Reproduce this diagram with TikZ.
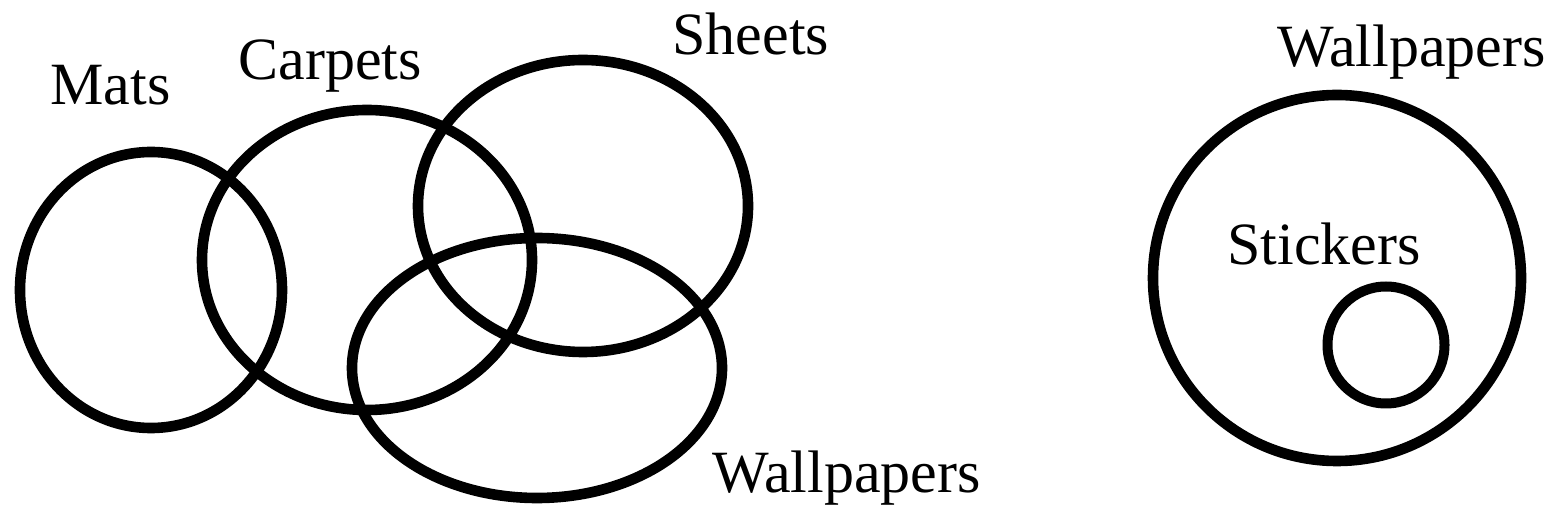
\documentclass[tikz,border=0pt]{standalone}
\usepackage{fontspec}
\setmainfont{Liberation Serif}
\usetikzlibrary{shapes.geometric}
\begin{document}
\begin{tikzpicture}[x=0.5pt,y=0.5pt,
  setshape/.style={ellipse, draw=black, line width=5.3pt, inner sep=0pt, fill=none},
  lbl/.style={anchor=base west, inner sep=0pt, font=\fontsize{30}{36}\selectfont}]
\useasboundingbox (0,0) rectangle (1547,519);
% left diagram
\node[setshape, minimum width=131pt, minimum height=138pt] (mats) at (151,229) {};
\node[setshape, minimum width=165pt, minimum height=150pt] (carpets) at (367,259) {};
\node[setshape, minimum width=165pt, minimum height=146pt] (sheets) at (583,313) {};
\node[setshape, minimum width=185pt, minimum height=130pt] (wallpapers) at (537,151) {};
\node[lbl] (tmats) at (50,414) {Mats};
\node[lbl] (tcarpets) at (238,439) {Carpets};
\node[lbl] (tsheets) at (672,464) {Sheets};
\node[lbl] (twall) at (712,26) {Wallpapers};
% right diagram
\node[setshape, minimum width=184pt, minimum height=183pt] (wall2) at (1337,241) {};
\node[setshape, line width=5pt, minimum width=58.5pt, minimum height=58.5pt] (stick) at (1386,174) {};
\node[lbl] (twall2) at (1277,452) {Wallpapers};
\node[lbl] (tstick) at (1227,254) {Stickers};
\end{tikzpicture}
\end{document}
